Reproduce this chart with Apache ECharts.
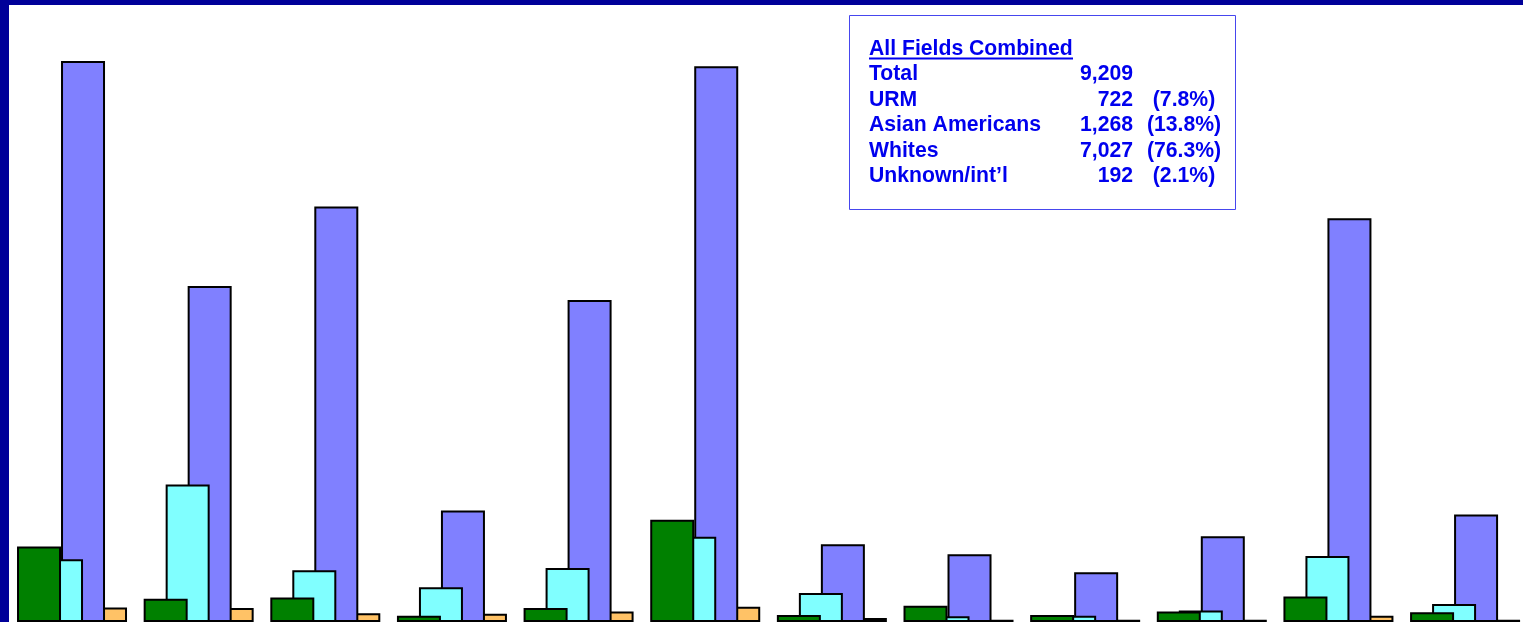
<!DOCTYPE html>
<html>
<head>
<meta charset="utf-8">
<script src="https://cdn.jsdelivr.net/npm/echarts@6/dist/echarts.min.js"></script>
<style>
html,body{margin:0;padding:0;background:#fff;overflow:hidden;}
#chart{width:1532px;height:622px;}
</style>
</head>
<body>
<div id="chart"></div>
<script>
// Data (fields 1..12; axis labels are cut off in the reference)
var categories = ['Field 1','Field 2','Field 3','Field 4','Field 5','Field 6','Field 7','Field 8','Field 9','Field 10','Field 11','Field 12'];
var urm      = [172, 53, 56, 14, 32, 233, 16, 37, 16, 24, 58, 22];
var asian    = [143, 313, 118, 79, 123, 194, 66, 13, 14, 26, 150, 41];
var whites   = [1277, 765, 946, 254, 733, 1265, 177, 154, 113, 195, 919, 245];
var unknown  = [33, 32, 20, 19, 24, 35, 9, 5, 5, 5, 14, 5];

var seriesNames = ['URM', 'Asian Americans', 'Whites', 'Unknown/int\u2019l'];
var seriesColors = ['#008000', '#80FFFF', '#8080FF', '#FFC266'];

var boxTitle = 'All Fields Combined';
var boxLabels = ['Total', 'URM', 'Asian Americans', 'Whites', 'Unknown/int\u2019l'];
var boxNumbers = ['9,209', '722', '1,268', '7,027', '192'];
var boxPercents = ['', '(7.8%)', '(13.8%)', '(76.3%)', '(2.1%)'];

var chart = echarts.init(document.getElementById('chart'));
var dataSets = [urm, asian, whites, unknown];
var series = dataSets.map(function (d, i) {
  return {
    name: seriesNames[i],
    type: 'bar',
    data: d,
    barWidth: 44,
    barGap: '-50%',
    z: 10 - i,
    itemStyle: { color: seriesColors[i], borderColor: '#000', borderWidth: 2 },
    emphasis: { disabled: true },
    animation: false
  };
});

var textColor = '#0000EE';
function txt(x, y, s, align) {
  return { type: 'text', x: x, y: y, z: 101,
    style: { text: s, fontFamily: 'Liberation Sans', fontWeight: 'bold', fontSize: 21.2,
             fill: textColor, textAlign: align || 'left', textVerticalAlign: 'middle' } };
}
var graphics = [];
graphics.push({ type: 'rect', shape: { x: 849.5, y: 15.5, width: 386, height: 194 },
  style: { fill: '#fff', stroke: '#4646ee', lineWidth: 1 }, z: 100 });
var rowY = [74.5, 100, 125.5, 151, 176.5];
graphics.push(txt(869, 49, boxTitle));
graphics.push({ type: 'line', shape: { x1: 869, y1: 58.5, x2: 1073, y2: 58.5 }, style: { stroke: textColor, lineWidth: 2 }, z: 101 });
boxLabels.forEach(function (lab, i) {
  graphics.push(txt(869, rowY[i], lab));
  graphics.push(txt(1133, rowY[i], boxNumbers[i], 'right'));
  if (boxPercents[i]) graphics.push(txt(1184, rowY[i], boxPercents[i], 'center'));
});
// dark blue frame
graphics.push({ type: 'rect', shape: { x: 0, y: 0, width: 1532, height: 5 }, style: { fill: '#000099' }, z: 200 });
graphics.push({ type: 'rect', shape: { x: 0, y: 0, width: 9, height: 622 }, style: { fill: '#000099' }, z: 200 });

chart.setOption({
  backgroundColor: '#ffffff',
  animation: false,
  grid: { left: 8.7, width: 1519.7, top: 7, bottom: -2, containLabel: false },
  xAxis: { type: 'category', data: categories, axisLine: { show: false }, axisTick: { show: false }, axisLabel: { show: false } },
  yAxis: { type: 'value', min: 0, max: 1400, show: false, splitLine: { show: false } },
  series: series,
  graphic: { elements: graphics }
});
</script>
</body>
</html>
